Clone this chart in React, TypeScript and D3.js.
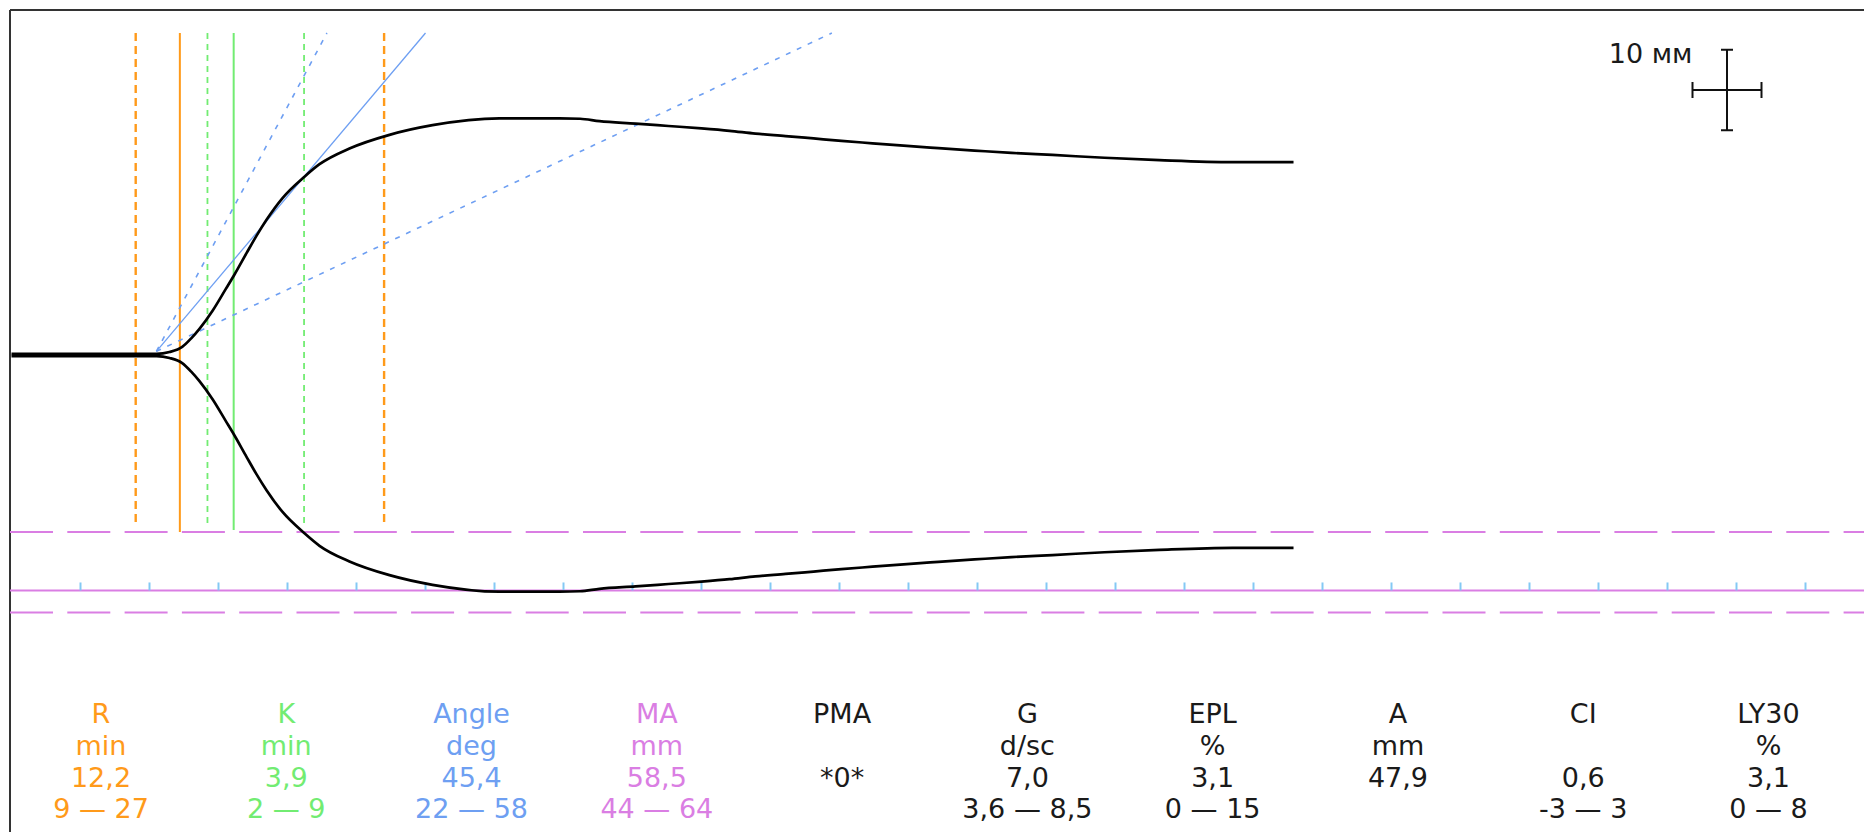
import React from "react";
import * as d3 from "d3";

// Trace: time (min) and full amplitude (mm)
const CURVE_T = [0, 10.51, 11.45, 12.37, 13.04, 13.62, 14.57, 15.51, 16.16, 17.03, 17.75, 18.48, 19.64, 21.23, 22.32, 24.49, 27.39, 30.51, 35.36, 39.71, 41.2, 42.61, 45.22, 47.61, 50.0, 52.03, 53.91, 56.09, 58.12, 60.14, 62.39, 64.64, 67.17, 69.78, 72.46, 75.43, 79.2, 83.19, 88.48, 92.9];
const CURVE_A = [0.3, 0.3, 0.75, 2.0, 4.2, 6.5, 11.0, 16.3, 20.0, 25.3, 29.6, 33.6, 39.0, 44.3, 47.4, 51.3, 54.7, 57.1, 58.8, 58.8, 58.7, 58.1, 57.5, 56.9, 56.3, 55.7, 55.0, 54.4, 53.8, 53.2, 52.6, 52.0, 51.4, 50.8, 50.2, 49.7, 49.0, 48.4, 47.9, 47.9];

const TICK_MINUTES = [5, 10, 15, 20, 25, 30, 35, 40, 45, 50, 55, 60, 65, 70, 75, 80, 85, 90, 95, 100, 105, 110, 115, 120, 125, 130];

const R_VALUE = 12.2;
const R_RANGE = [9, 27];
const K_VALUE = 3.9;
const K_RANGE = [2, 9];
const ANGLE_VALUE = 45.4;
const ANGLE_RANGE = [22, 58];
const ANGLE_ORIGIN_T = 10.5;
const ANGLE_ORIGIN_A = 0.9;
const MA_VALUE = 58.5;
const MA_RANGE = [44, 64];

const PARAM_NAMES = ["R", "K", "Angle", "MA", "PMA", "G", "EPL", "A", "CI", "LY30"];
const PARAM_UNITS = ["min", "min", "deg", "mm", "", "d/sc", "%", "mm", "", "%"];
const PARAM_VALUES = ["12,2", "3,9", "45,4", "58,5", "*0*", "7,0", "3,1", "47,9", "0,6", "3,1"];
const PARAM_RANGES = ["9 — 27", "2 — 9", "22 — 58", "44 — 64", "", "3,6 — 8,5", "0 — 15", "", "-3 — 3", "0 — 8"];

const SCALE_LABEL = "10 мм";

// styles
const W = 1864;
const H = 832;
const ORANGE = "#ff9a1a";
const GREEN = "#72ec72";
const BLUE = "#6e9ff2";
const PURPLE = "#da7ee3";
const TICKC = "#84c9f4";
const INK = "#1a1a1a";
const PARAM_COLORS = [ORANGE, GREEN, BLUE, PURPLE, INK, INK, INK, INK, INK, INK];
const FONT = "'DejaVu Sans', Verdana, sans-serif";

const BASE_Y = 355;
const PX_PER_MM_V = 8.05;
const PX_PER_MIN = 13.8;
const MM_PER_MIN = 2;

export default function App() {
  const x = d3.scaleLinear().domain([0, 130]).range([11.5, 11.5 + 130 * PX_PER_MIN]);
  const yUp = d3.scaleLinear().domain([0, 100]).range([BASE_Y, BASE_Y - (100 * PX_PER_MM_V) / 2]);
  const yDown = d3.scaleLinear().domain([0, 100]).range([BASE_Y, BASE_Y + (100 * PX_PER_MM_V) / 2]);
  const TOP_A = yUp.invert(33);

  const pts = CURVE_T.map((t, i) => [t, CURVE_A[i]] as [number, number]);
  const upper = d3.line<[number, number]>().x((d) => x(d[0])).y((d) => yUp(d[1])).curve(d3.curveMonotoneX)(pts) || "";
  const lower = d3.line<[number, number]>().x((d) => x(d[0])).y((d) => yDown(d[1])).curve(d3.curveMonotoneX)(pts) || "";

  const lineTop = yUp(TOP_A);
  const dashBottom = 527;
  const solidBottom = yDown(MA_RANGE[0]);

  const angleLine = (deg: number) => {
    const slope = 2 * MM_PER_MIN * Math.tan((deg * Math.PI) / 180);
    const tEnd = ANGLE_ORIGIN_T + (TOP_A - ANGLE_ORIGIN_A) / slope;
    return { x1: x(ANGLE_ORIGIN_T), y1: yUp(ANGLE_ORIGIN_A), x2: x(tEnd), y2: yUp(TOP_A) };
  };

  const labelX = d3.scalePoint<string>().domain(PARAM_NAMES).range([101, 1768.5]);
  const rowY = [723, 755, 787, 818];

  const cx = 1727;
  const cy = 90;
  const vHalf = (10 * PX_PER_MM_V) / 2;
  const hHalf = (x(5) - x(0)) / 2;

  const maBand = [MA_RANGE[0], MA_VALUE, MA_RANGE[1]];

  return (
    <svg width={W} height={H} style={{ position: "fixed", left: 0, top: 0, background: "#fff" }}>
      <rect x={0} y={0} width={W} height={H} fill="#fff" />
      {/* frame */}
      <line x1={10} y1={10} x2={W + 5} y2={10} stroke="#333" strokeWidth={2} />
      <line x1={10} y1={10} x2={10} y2={H + 5} stroke="#333" strokeWidth={2} />

      {/* MA lines */}
      {maBand.map((v, i) => (
        <line
          key={"ma" + i}
          x1={10}
          x2={W}
          y1={yDown(v)}
          y2={yDown(v)}
          stroke={PURPLE}
          strokeWidth={2}
          strokeDasharray={i === 1 ? undefined : "43,14.3"}
        />
      ))}
      {/* time ticks */}
      {TICK_MINUTES.map((m) => (
        <line key={"t" + m} x1={x(m)} x2={x(m)} y1={yDown(MA_VALUE) - 8} y2={yDown(MA_VALUE)} stroke={TICKC} strokeWidth={2} />
      ))}

      {/* R lines */}
      {R_RANGE.map((v, i) => (
        <line key={"rr" + i} x1={x(v)} x2={x(v)} y1={lineTop} y2={dashBottom} stroke={ORANGE} strokeWidth={2.4} strokeDasharray="8,5" />
      ))}
      <line x1={x(R_VALUE)} x2={x(R_VALUE)} y1={lineTop} y2={solidBottom} stroke={ORANGE} strokeWidth={2} />
      {/* K lines */}
      {K_RANGE.map((v, i) => (
        <line key={"kr" + i} x1={x(R_VALUE + v)} x2={x(R_VALUE + v)} y1={lineTop} y2={dashBottom} stroke={GREEN} strokeWidth={1.8} strokeDasharray="6,5" />
      ))}
      <line x1={x(R_VALUE + K_VALUE)} x2={x(R_VALUE + K_VALUE)} y1={lineTop} y2={solidBottom - 2} stroke={GREEN} strokeWidth={2} />

      {/* angle lines */}
      {ANGLE_RANGE.map((v, i) => {
        const l = angleLine(v);
        return <line key={"ar" + i} {...l} stroke={BLUE} strokeWidth={1.6} strokeDasharray="5,7" />;
      })}
      {(() => {
        const l = angleLine(ANGLE_VALUE);
        return <line {...l} stroke={BLUE} strokeWidth={1.3} />;
      })()}

      {/* trace */}
      <path d={upper} fill="none" stroke="#000" strokeWidth={2.7} strokeLinejoin="round" />
      <path d={lower} fill="none" stroke="#000" strokeWidth={2.7} strokeLinejoin="round" />

      {/* scale cross */}
      <g stroke="#111" strokeWidth={2}>
        <line x1={cx} x2={cx} y1={cy - vHalf} y2={cy + vHalf} />
        <line x1={cx - 6} x2={cx + 6} y1={cy - vHalf} y2={cy - vHalf} />
        <line x1={cx - 6} x2={cx + 6} y1={cy + vHalf} y2={cy + vHalf} />
        <line x1={cx - hHalf} x2={cx + hHalf} y1={cy} y2={cy} />
        <line x1={cx - hHalf} x2={cx - hHalf} y1={cy - 8} y2={cy + 8} />
        <line x1={cx + hHalf} x2={cx + hHalf} y1={cy - 8} y2={cy + 8} />
      </g>
      <text x={cx - hHalf} y={63} textAnchor="end" fontFamily={FONT} fontSize={27} fill={INK}>
        {SCALE_LABEL}
      </text>

      {/* parameter table */}
      {PARAM_NAMES.map((n, i) => (
        <g key={"p" + n} fontFamily={FONT} fontSize={27} fill={PARAM_COLORS[i]} textAnchor="middle">
          <text x={labelX(n)} y={rowY[0]}>{n}</text>
          <text x={labelX(n)} y={rowY[1]}>{PARAM_UNITS[i]}</text>
          <text x={labelX(n)} y={rowY[2]}>{PARAM_VALUES[i]}</text>
          <text x={labelX(n)} y={rowY[3]}>{PARAM_RANGES[i]}</text>
        </g>
      ))}
    </svg>
  );
}
